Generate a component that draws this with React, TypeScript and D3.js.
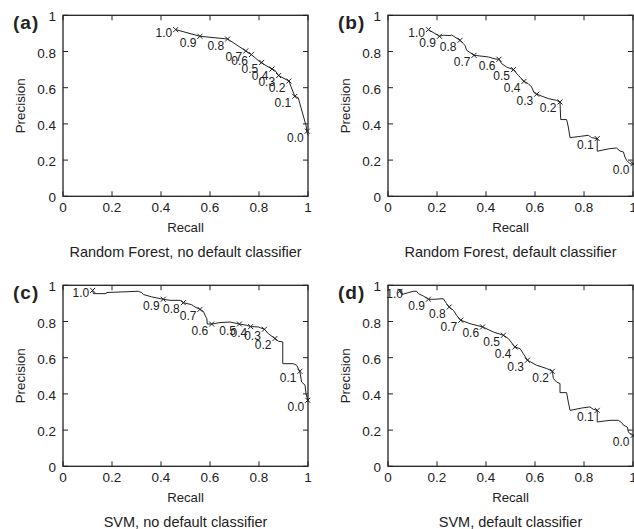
import React from "react";
import * as d3 from "d3";

// ---------- data ----------
const thresholds = ["1.0", "0.9", "0.8", "0.7", "0.6", "0.5", "0.4", "0.3", "0.2", "0.1", "0.0"];
const axisTicks = [0, 0.2, 0.4, 0.6, 0.8, 1];
const panelLetters = ["a", "b", "c", "d"];
const panelTitles = [
  "Random Forest, no default classifier",
  "Random Forest, default classifier",
  "SVM, no default classifier",
  "SVM, default classifier",
];

// (a) Random Forest, no default classifier: [recall, precision]
const rfNoDefaultCurve: [number, number][] = [
  [0.46, 0.921], [0.559, 0.884], [0.672, 0.869], [0.746, 0.803], [0.769, 0.783],
  [0.804, 0.742], [0.853, 0.703], [0.865, 0.696], [0.88, 0.667], [0.922, 0.637],
  [0.946, 0.552], [0.96, 0.545], [0.992, 0.391], [0.997, 0.348], [1.0, 0.337],
];
const rfNoDefaultMarks: [number, number][] = [
  [0.46, 0.921], [0.559, 0.884], [0.672, 0.869], [0.746, 0.803], [0.769, 0.783],
  [0.811, 0.74], [0.853, 0.703], [0.88, 0.667], [0.922, 0.637], [0.946, 0.552], [0.997, 0.36],
];

// (b) Random Forest, default classifier
const rfDefaultCurve: [number, number][] = [
  [0.165, 0.921], [0.21, 0.884], [0.226, 0.89], [0.253, 0.888], [0.26, 0.891],
  [0.294, 0.862], [0.307, 0.844], [0.314, 0.834], [0.321, 0.807], [0.351, 0.779],
  [0.409, 0.77], [0.437, 0.759], [0.453, 0.757], [0.464, 0.733], [0.484, 0.714],
  [0.512, 0.7], [0.532, 0.668], [0.555, 0.635], [0.573, 0.622], [0.586, 0.604],
  [0.597, 0.571], [0.607, 0.564], [0.654, 0.54], [0.688, 0.53], [0.702, 0.521],
  [0.705, 0.424], [0.729, 0.424], [0.736, 0.383], [0.743, 0.324], [0.784, 0.331],
  [0.818, 0.337], [0.831, 0.324], [0.854, 0.319], [0.854, 0.249], [0.903, 0.263],
  [0.933, 0.267], [0.947, 0.25], [0.961, 0.245], [0.967, 0.217], [0.974, 0.199],
  [0.988, 0.18], [1.0, 0.177],
];
const rfDefaultMarks: [number, number][] = [
  [0.165, 0.921], [0.21, 0.884], [0.294, 0.862], [0.351, 0.779], [0.453, 0.757],
  [0.512, 0.7], [0.555, 0.635], [0.607, 0.564], [0.702, 0.521], [0.854, 0.319], [1.0, 0.18],
];

// (c) SVM, no default classifier
const svmNoDefaultCurve: [number, number][] = [
  [0.121, 0.972], [0.124, 0.954], [0.176, 0.954], [0.178, 0.96], [0.307, 0.967],
  [0.321, 0.96], [0.328, 0.949], [0.362, 0.936], [0.409, 0.923], [0.437, 0.917],
  [0.478, 0.917], [0.491, 0.904], [0.525, 0.893], [0.539, 0.88], [0.559, 0.867],
  [0.573, 0.856], [0.58, 0.834], [0.587, 0.816], [0.589, 0.786], [0.607, 0.786],
  [0.641, 0.794], [0.682, 0.797], [0.72, 0.786], [0.75, 0.779], [0.766, 0.772],
  [0.797, 0.77], [0.822, 0.757], [0.838, 0.733], [0.865, 0.706], [0.879, 0.691],
  [0.897, 0.687], [0.897, 0.567], [0.94, 0.567], [0.954, 0.558], [0.967, 0.521],
  [0.974, 0.466], [0.988, 0.448], [0.992, 0.402], [0.999, 0.365], [1.0, 0.354],
];
const svmNoDefaultMarks: [number, number][] = [
  [0.121, 0.972], [0.409, 0.923], [0.491, 0.904], [0.559, 0.867], [0.607, 0.786],
  [0.72, 0.786], [0.766, 0.772], [0.822, 0.757], [0.865, 0.706], [0.967, 0.525], [0.999, 0.365],
];

// (d) SVM, default classifier
const svmDefaultCurve: [number, number][] = [
  [0.049, 0.967], [0.056, 0.949], [0.069, 0.954], [0.103, 0.967], [0.117, 0.967],
  [0.124, 0.954], [0.144, 0.941], [0.165, 0.923], [0.192, 0.923], [0.226, 0.926],
  [0.239, 0.899], [0.25, 0.88], [0.267, 0.862], [0.28, 0.834], [0.297, 0.807],
  [0.335, 0.788], [0.386, 0.77], [0.43, 0.742], [0.471, 0.724], [0.491, 0.706],
  [0.518, 0.659], [0.539, 0.65], [0.552, 0.623], [0.569, 0.586], [0.607, 0.558],
  [0.648, 0.54], [0.671, 0.525], [0.675, 0.485], [0.688, 0.466], [0.702, 0.457],
  [0.702, 0.407], [0.729, 0.407], [0.736, 0.355], [0.743, 0.309], [0.791, 0.322],
  [0.824, 0.328], [0.838, 0.315], [0.854, 0.309], [0.854, 0.245], [0.906, 0.254],
  [0.94, 0.254], [0.954, 0.241], [0.961, 0.227], [0.977, 0.217], [0.981, 0.19],
  [0.995, 0.171], [1.0, 0.165],
];
const svmDefaultMarks: [number, number][] = [
  [0.049, 0.967], [0.165, 0.923], [0.25, 0.88], [0.297, 0.807], [0.386, 0.77],
  [0.471, 0.724], [0.518, 0.659], [0.569, 0.586], [0.671, 0.525], [0.854, 0.309], [1.0, 0.17],
];

const curves = [rfNoDefaultCurve, rfDefaultCurve, svmNoDefaultCurve, svmDefaultCurve];
const marks = [rfNoDefaultMarks, rfDefaultMarks, svmNoDefaultMarks, svmDefaultMarks];

// ---------- layout ----------
const W = 634;
const H = 529;
const PW = 245;
const PH = 181;
const LEFT0 = 63;
const COL_STEP = 325;
const TOP0 = 15.3;
const ROW_STEP = 270;
const INK = "#222";
const FONT = "'Liberation Sans', Arial, Helvetica, sans-serif";
const TICK = 5;

function Panel({ i }: { i: number }) {
  const left = LEFT0 + (i % 2) * COL_STEP;
  const top = TOP0 + Math.floor(i / 2) * ROW_STEP;
  const x = d3.scaleLinear().domain([0, 1]).range([left, left + PW]);
  const y = d3.scaleLinear().domain([0, 1]).range([top + PH, top]);
  const line = d3
    .line<[number, number]>()
    .x((d) => x(d[0]))
    .y((d) => y(d[1]));
  const bottom = top + PH;
  const right = left + PW;
  return (
    <g>
      {/* ticks */}
      {axisTicks.map((t) => (
        <g key={"t" + t} stroke={INK} strokeWidth={1}>
          <line x1={x(t)} x2={x(t)} y1={bottom} y2={bottom - TICK} />
          <line x1={x(t)} x2={x(t)} y1={top} y2={top + TICK} />
          <line x1={left} x2={left + TICK} y1={y(t)} y2={y(t)} />
          <line x1={right} x2={right - TICK} y1={y(t)} y2={y(t)} />
        </g>
      ))}
      {/* frame */}
      <rect x={left} y={top} width={PW} height={PH} fill="none" stroke={INK} strokeWidth={1.3} />
      {/* tick labels */}
      {axisTicks.map((t) => (
        <text key={"xl" + t} x={x(t)} y={bottom + 16} textAnchor="middle" fontSize={13.5} fill={INK}>
          {d3.format("~g")(t)}
        </text>
      ))}
      {axisTicks.map((t) => (
        <text key={"yl" + t} x={left - 7} y={y(t) + 6} textAnchor="end" fontSize={13.5} fill={INK}>
          {d3.format("~g")(t)}
        </text>
      ))}
      {/* axis titles */}
      <text x={(left + right) / 2} y={bottom + 35.5} textAnchor="middle" fontSize={13.2} fill={INK}>
        Recall
      </text>
      <text
        transform={`translate(${left - 38},${(top + bottom) / 2}) rotate(-90)`}
        textAnchor="middle"
        fontSize={13.4}
        fill={INK}
      >
        Precision
      </text>
      <text x={(left + right) / 2} y={bottom + 61} textAnchor="middle" fontSize={14.5} fill={INK}>
        {panelTitles[i]}
      </text>
      {/* panel letter */}
      <text x={left - 50} y={top + 13.5} fontSize={19} fontWeight="bold" fill={INK} letterSpacing={1}>
        ({panelLetters[i]})
      </text>
      {/* curve */}
      <path d={line(curves[i]) || ""} fill="none" stroke={INK} strokeWidth={1} />
      {/* markers + labels */}
      {marks[i].map((m, k) => {
        const mx = x(m[0]);
        const my = y(m[1]);
        const lx = Math.max(mx - 3.5, left + 15);
        const ly = my + (k === 0 ? 7 : 10.5);
        return (
          <g key={"m" + k}>
            <path
              d={`M${mx - 2.5},${my - 2.5}L${mx + 2.5},${my + 2.5}M${mx - 2.5},${my + 2.5}L${mx + 2.5},${my - 2.5}`}
              stroke={INK}
              strokeWidth={1}
            />
            <text x={lx} y={ly} textAnchor="end" fontSize={12} fill={INK}>
              {thresholds[k]}
            </text>
          </g>
        );
      })}
    </g>
  );
}

export default function App() {
  return (
    <div style={{ position: "absolute", left: 0, top: 0, width: W, height: H, overflow: "hidden", background: "#fff" }}>
      <svg width={W} height={H} style={{ display: "block", fontFamily: FONT }}>
        <rect width={W} height={H} fill="#fff" />
        {panelLetters.map((_, i) => (
          <Panel key={i} i={i} />
        ))}
      </svg>
    </div>
  );
}
